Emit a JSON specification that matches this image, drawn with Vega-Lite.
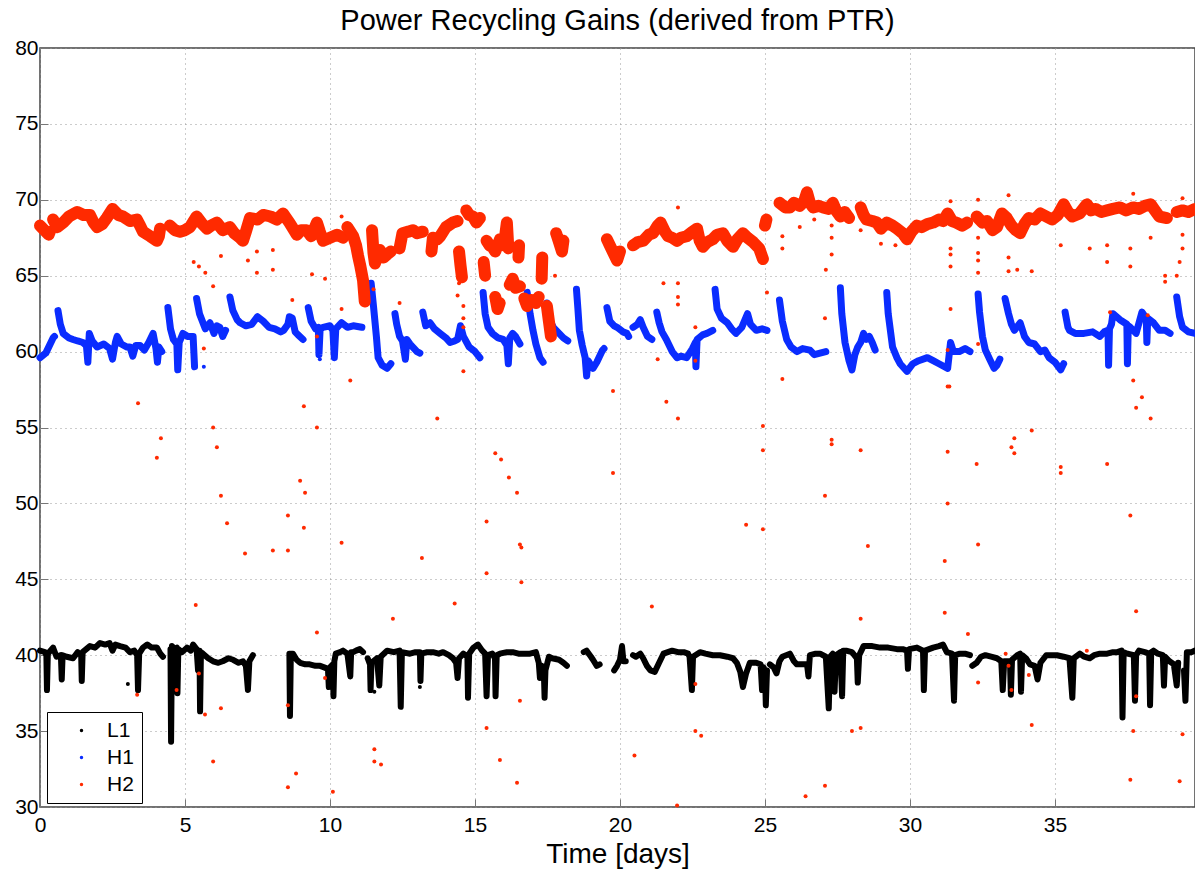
{
"$schema":"https://vega.github.io/schema/vega-lite/v6.json",
"width":1155,"height":759,
"autosize":{"type":"none"},
"padding":{"left":40,"top":48,"right":0,"bottom":62},
"title":{"text":"Power Recycling Gains (derived from PTR)","fontSize":29,"fontWeight":"normal","font":"Liberation Sans","color":"#000","anchor":"middle","baseline":"alphabetic","offset":16,"dy":38},
"config":{"font":"Liberation Sans","view":{"stroke":"#444","strokeWidth":1.5}},
"datasets":{
"L1":[
{"series":"L1","seg":"a","day":0,"gain":40.3},{"series":"L1","seg":"a","day":0.17,"gain":40.2},{"series":"L1","seg":"a","day":0.22,"gain":40.0},{"series":"L1","seg":"a","day":0.24,"gain":37.7},{"series":"L1","seg":"a","day":0.27,"gain":40.1},{"series":"L1","seg":"a","day":0.45,"gain":40.5},{"series":"L1","seg":"a","day":0.57,"gain":39.9},{"series":"L1","seg":"a","day":0.72,"gain":40.0},{"series":"L1","seg":"a","day":0.75,"gain":38.4},{"series":"L1","seg":"a","day":0.78,"gain":40.0},{"series":"L1","seg":"a","day":0.92,"gain":39.9},{"series":"L1","seg":"a","day":1.14,"gain":39.8},{"series":"L1","seg":"a","day":1.3,"gain":40.2},{"series":"L1","seg":"a","day":1.42,"gain":40.0},{"series":"L1","seg":"a","day":1.44,"gain":38.3},{"series":"L1","seg":"a","day":1.47,"gain":40.2},{"series":"L1","seg":"a","day":1.72,"gain":40.6},{"series":"L1","seg":"a","day":1.9,"gain":40.5},{"series":"L1","seg":"a","day":2.07,"gain":40.8},{"series":"L1","seg":"a","day":2.25,"gain":40.7},{"series":"L1","seg":"a","day":2.4,"gain":40.8},{"series":"L1","seg":"a","day":2.5,"gain":40.3},{"series":"L1","seg":"a","day":2.6,"gain":40.7},{"series":"L1","seg":"a","day":2.76,"gain":40.6},{"series":"L1","seg":"a","day":2.95,"gain":40.5},{"series":"L1","seg":"a","day":3.1,"gain":40.2},{"series":"L1","seg":"a","day":3.25,"gain":40.3},{"series":"L1","seg":"a","day":3.35,"gain":40.0},{"series":"L1","seg":"a","day":3.38,"gain":37.7},{"series":"L1","seg":"a","day":3.42,"gain":40.1},{"series":"L1","seg":"a","day":3.55,"gain":40.5},{"series":"L1","seg":"a","day":3.7,"gain":40.7},{"series":"L1","seg":"a","day":3.85,"gain":40.5},{"series":"L1","seg":"a","day":4.03,"gain":40.5},{"series":"L1","seg":"a","day":4.15,"gain":40.1},{"series":"L1","seg":"a","day":4.24,"gain":39.9},
{"series":"L1","seg":"b","day":4.5,"gain":40.4},{"series":"L1","seg":"b","day":4.52,"gain":34.3},{"series":"L1","seg":"b","day":4.55,"gain":40.6},{"series":"L1","seg":"b","day":4.65,"gain":40.4},{"series":"L1","seg":"b","day":4.72,"gain":40.5},{"series":"L1","seg":"b","day":4.74,"gain":37.5},{"series":"L1","seg":"b","day":4.77,"gain":40.4},{"series":"L1","seg":"b","day":4.9,"gain":40.2},{"series":"L1","seg":"b","day":5.07,"gain":40.5},{"series":"L1","seg":"b","day":5.2,"gain":40.3},{"series":"L1","seg":"b","day":5.28,"gain":40.7},{"series":"L1","seg":"b","day":5.4,"gain":40.4},{"series":"L1","seg":"b","day":5.45,"gain":39.0},{"series":"L1","seg":"b","day":5.5,"gain":40.3},{"series":"L1","seg":"b","day":5.52,"gain":36.3},{"series":"L1","seg":"b","day":5.55,"gain":40.2},{"series":"L1","seg":"b","day":5.62,"gain":40.1},{"series":"L1","seg":"b","day":5.8,"gain":39.8},{"series":"L1","seg":"b","day":5.97,"gain":39.6},{"series":"L1","seg":"b","day":6.15,"gain":39.5},{"series":"L1","seg":"b","day":6.3,"gain":39.6},{"series":"L1","seg":"b","day":6.5,"gain":39.8},{"series":"L1","seg":"b","day":6.66,"gain":39.7},{"series":"L1","seg":"b","day":6.85,"gain":39.5},{"series":"L1","seg":"b","day":7.0,"gain":39.6},{"series":"L1","seg":"b","day":7.1,"gain":39.3},{"series":"L1","seg":"b","day":7.17,"gain":37.7},{"series":"L1","seg":"b","day":7.22,"gain":39.6},{"series":"L1","seg":"b","day":7.34,"gain":40.0},
{"series":"L1","seg":"c","day":8.6,"gain":40.1},{"series":"L1","seg":"c","day":8.62,"gain":36.0},{"series":"L1","seg":"c","day":8.65,"gain":40.1},{"series":"L1","seg":"c","day":8.72,"gain":40.1},{"series":"L1","seg":"c","day":8.85,"gain":39.7},{"series":"L1","seg":"c","day":8.97,"gain":39.5},{"series":"L1","seg":"c","day":9.15,"gain":39.4},{"series":"L1","seg":"c","day":9.3,"gain":39.4},{"series":"L1","seg":"c","day":9.5,"gain":39.3},{"series":"L1","seg":"c","day":9.66,"gain":39.3},{"series":"L1","seg":"c","day":9.8,"gain":39.2},{"series":"L1","seg":"c","day":9.93,"gain":39.1},{"series":"L1","seg":"c","day":9.96,"gain":37.9},{"series":"L1","seg":"c","day":10.0,"gain":39.2},{"series":"L1","seg":"c","day":10.1,"gain":39.4},{"series":"L1","seg":"c","day":10.12,"gain":37.3},{"series":"L1","seg":"c","day":10.15,"gain":39.6},{"series":"L1","seg":"c","day":10.2,"gain":40.1},{"series":"L1","seg":"c","day":10.35,"gain":40.2},{"series":"L1","seg":"c","day":10.45,"gain":40.3},{"series":"L1","seg":"c","day":10.6,"gain":40.1},{"series":"L1","seg":"c","day":10.7,"gain":38.6},{"series":"L1","seg":"c","day":10.73,"gain":40.2},{"series":"L1","seg":"c","day":10.8,"gain":40.2},{"series":"L1","seg":"c","day":10.9,"gain":40.3},{"series":"L1","seg":"c","day":11.03,"gain":40.4},{"series":"L1","seg":"c","day":11.14,"gain":40.2},
{"series":"L1","seg":"d","day":11.3,"gain":39.8},{"series":"L1","seg":"d","day":11.38,"gain":39.4},{"series":"L1","seg":"d","day":11.4,"gain":37.7},{"series":"L1","seg":"d","day":11.43,"gain":39.5},{"series":"L1","seg":"d","day":11.62,"gain":39.8},{"series":"L1","seg":"d","day":11.7,"gain":38.0},{"series":"L1","seg":"d","day":11.75,"gain":39.9},{"series":"L1","seg":"d","day":11.97,"gain":40.3},{"series":"L1","seg":"d","day":12.2,"gain":40.2},{"series":"L1","seg":"d","day":12.4,"gain":40.3},{"series":"L1","seg":"d","day":12.44,"gain":36.6},{"series":"L1","seg":"d","day":12.48,"gain":40.2},{"series":"L1","seg":"d","day":12.76,"gain":40.1},{"series":"L1","seg":"d","day":12.95,"gain":40.2},{"series":"L1","seg":"d","day":13.1,"gain":40.2},{"series":"L1","seg":"d","day":13.12,"gain":38.3},{"series":"L1","seg":"d","day":13.15,"gain":40.1},{"series":"L1","seg":"d","day":13.35,"gain":40.2},{"series":"L1","seg":"d","day":13.55,"gain":40.2},{"series":"L1","seg":"d","day":13.75,"gain":40.1},{"series":"L1","seg":"d","day":13.9,"gain":40.2},{"series":"L1","seg":"d","day":14.1,"gain":40.0},{"series":"L1","seg":"d","day":14.24,"gain":39.8},{"series":"L1","seg":"d","day":14.35,"gain":39.5},{"series":"L1","seg":"d","day":14.4,"gain":38.5},{"series":"L1","seg":"d","day":14.45,"gain":39.8},{"series":"L1","seg":"d","day":14.6,"gain":40.1},{"series":"L1","seg":"d","day":14.74,"gain":39.9},{"series":"L1","seg":"d","day":14.76,"gain":37.2},{"series":"L1","seg":"d","day":14.8,"gain":40.1},{"series":"L1","seg":"d","day":14.95,"gain":40.5},{"series":"L1","seg":"d","day":15.1,"gain":40.7},{"series":"L1","seg":"d","day":15.25,"gain":40.3},{"series":"L1","seg":"d","day":15.35,"gain":40.1},{"series":"L1","seg":"d","day":15.4,"gain":37.3},{"series":"L1","seg":"d","day":15.45,"gain":40.0},{"series":"L1","seg":"d","day":15.6,"gain":40.1},{"series":"L1","seg":"d","day":15.69,"gain":39.8},{"series":"L1","seg":"d","day":15.71,"gain":37.3},{"series":"L1","seg":"d","day":15.75,"gain":40.0},{"series":"L1","seg":"d","day":15.86,"gain":40.1},{"series":"L1","seg":"d","day":16.1,"gain":40.2},{"series":"L1","seg":"d","day":16.3,"gain":40.2},{"series":"L1","seg":"d","day":16.5,"gain":40.1},{"series":"L1","seg":"d","day":16.66,"gain":40.1},{"series":"L1","seg":"d","day":16.9,"gain":40.1},{"series":"L1","seg":"d","day":17.1,"gain":40.2},{"series":"L1","seg":"d","day":17.2,"gain":39.5},{"series":"L1","seg":"d","day":17.24,"gain":38.5},{"series":"L1","seg":"d","day":17.3,"gain":39.3},{"series":"L1","seg":"d","day":17.38,"gain":38.6},{"series":"L1","seg":"d","day":17.4,"gain":37.2},{"series":"L1","seg":"d","day":17.43,"gain":39.0},{"series":"L1","seg":"d","day":17.55,"gain":39.9},{"series":"L1","seg":"d","day":17.66,"gain":39.8},{"series":"L1","seg":"d","day":17.9,"gain":39.7},{"series":"L1","seg":"d","day":18.05,"gain":39.5},{"series":"L1","seg":"d","day":18.17,"gain":39.3},
{"series":"L1","seg":"e","day":18.75,"gain":40.2},{"series":"L1","seg":"e","day":18.85,"gain":40.3},{"series":"L1","seg":"e","day":19.0,"gain":39.9},{"series":"L1","seg":"e","day":19.07,"gain":39.7},{"series":"L1","seg":"e","day":19.2,"gain":39.3},{"series":"L1","seg":"e","day":19.3,"gain":39.4},
{"series":"L1","seg":"f","day":19.8,"gain":39.0},{"series":"L1","seg":"f","day":19.9,"gain":39.3},{"series":"L1","seg":"f","day":20.0,"gain":39.7},{"series":"L1","seg":"f","day":20.07,"gain":40.6},{"series":"L1","seg":"f","day":20.12,"gain":39.6},{"series":"L1","seg":"f","day":20.2,"gain":39.6},
{"series":"L1","seg":"g","day":20.45,"gain":40.0},{"series":"L1","seg":"g","day":20.55,"gain":39.9},{"series":"L1","seg":"g","day":20.7,"gain":40.1},{"series":"L1","seg":"g","day":20.8,"gain":39.8},{"series":"L1","seg":"g","day":20.93,"gain":39.3},{"series":"L1","seg":"g","day":21.05,"gain":39.0},{"series":"L1","seg":"g","day":21.2,"gain":38.9},{"series":"L1","seg":"g","day":21.35,"gain":39.5},{"series":"L1","seg":"g","day":21.5,"gain":40.1},{"series":"L1","seg":"g","day":21.65,"gain":40.2},{"series":"L1","seg":"g","day":21.8,"gain":40.3},{"series":"L1","seg":"g","day":22.0,"gain":40.2},{"series":"L1","seg":"g","day":22.2,"gain":40.2},{"series":"L1","seg":"g","day":22.35,"gain":40.1},{"series":"L1","seg":"g","day":22.4,"gain":39.9},{"series":"L1","seg":"g","day":22.48,"gain":37.7},{"series":"L1","seg":"g","day":22.52,"gain":39.9},{"series":"L1","seg":"g","day":22.76,"gain":40.2},{"series":"L1","seg":"g","day":22.95,"gain":40.1},{"series":"L1","seg":"g","day":23.2,"gain":40.0},{"series":"L1","seg":"g","day":23.45,"gain":40.0},{"series":"L1","seg":"g","day":23.7,"gain":39.9},{"series":"L1","seg":"g","day":23.9,"gain":39.8},{"series":"L1","seg":"g","day":24.03,"gain":39.5},{"series":"L1","seg":"g","day":24.15,"gain":38.9},{"series":"L1","seg":"g","day":24.24,"gain":37.9},{"series":"L1","seg":"g","day":24.35,"gain":38.8},{"series":"L1","seg":"g","day":24.48,"gain":39.5},{"series":"L1","seg":"g","day":24.7,"gain":39.5},{"series":"L1","seg":"g","day":24.85,"gain":39.4},{"series":"L1","seg":"g","day":24.9,"gain":37.7},{"series":"L1","seg":"g","day":24.95,"gain":39.2},{"series":"L1","seg":"g","day":25.0,"gain":39.0},{"series":"L1","seg":"g","day":25.03,"gain":36.7},{"series":"L1","seg":"g","day":25.07,"gain":39.0},
{"series":"L1","seg":"h","day":25.17,"gain":39.4},{"series":"L1","seg":"h","day":25.3,"gain":39.2},{"series":"L1","seg":"h","day":25.4,"gain":38.8},{"series":"L1","seg":"h","day":25.5,"gain":39.6},{"series":"L1","seg":"h","day":25.6,"gain":39.9},{"series":"L1","seg":"h","day":25.86,"gain":40.1},{"series":"L1","seg":"h","day":26.0,"gain":39.6},{"series":"L1","seg":"h","day":26.1,"gain":39.4},{"series":"L1","seg":"h","day":26.3,"gain":39.4},{"series":"L1","seg":"h","day":26.45,"gain":39.4},{"series":"L1","seg":"h","day":26.5,"gain":38.6},{"series":"L1","seg":"h","day":26.55,"gain":40.0},{"series":"L1","seg":"h","day":26.75,"gain":40.1},{"series":"L1","seg":"h","day":26.9,"gain":40.1},{"series":"L1","seg":"h","day":27.1,"gain":39.9},{"series":"L1","seg":"h","day":27.2,"gain":36.5},{"series":"L1","seg":"h","day":27.25,"gain":39.9},{"series":"L1","seg":"h","day":27.34,"gain":40.1},{"series":"L1","seg":"h","day":27.4,"gain":37.6},{"series":"L1","seg":"h","day":27.45,"gain":40.0},{"series":"L1","seg":"h","day":27.6,"gain":40.2},{"series":"L1","seg":"h","day":27.66,"gain":37.3},{"series":"L1","seg":"h","day":27.7,"gain":40.3},{"series":"L1","seg":"h","day":27.8,"gain":40.3},{"series":"L1","seg":"h","day":28.0,"gain":40.2},{"series":"L1","seg":"h","day":28.17,"gain":39.8},{"series":"L1","seg":"h","day":28.2,"gain":38.2},{"series":"L1","seg":"h","day":28.25,"gain":40.0},{"series":"L1","seg":"h","day":28.4,"gain":40.6},{"series":"L1","seg":"h","day":28.7,"gain":40.6},{"series":"L1","seg":"h","day":28.97,"gain":40.5},{"series":"L1","seg":"h","day":29.25,"gain":40.5},{"series":"L1","seg":"h","day":29.55,"gain":40.4},{"series":"L1","seg":"h","day":29.75,"gain":40.4},{"series":"L1","seg":"h","day":29.9,"gain":40.3},{"series":"L1","seg":"h","day":29.93,"gain":39.1},{"series":"L1","seg":"h","day":29.97,"gain":40.4},{"series":"L1","seg":"h","day":30.24,"gain":40.5},{"series":"L1","seg":"h","day":30.45,"gain":40.3},{"series":"L1","seg":"h","day":30.48,"gain":37.7},{"series":"L1","seg":"h","day":30.52,"gain":40.3},{"series":"L1","seg":"h","day":30.8,"gain":40.5},{"series":"L1","seg":"h","day":31.0,"gain":40.6},{"series":"L1","seg":"h","day":31.14,"gain":40.7},{"series":"L1","seg":"h","day":31.27,"gain":40.2},{"series":"L1","seg":"h","day":31.45,"gain":40.1},{"series":"L1","seg":"h","day":31.52,"gain":37.0},{"series":"L1","seg":"h","day":31.56,"gain":40.0},{"series":"L1","seg":"h","day":31.72,"gain":40.1},{"series":"L1","seg":"h","day":31.9,"gain":40.1},{"series":"L1","seg":"h","day":32.07,"gain":40.0},
{"series":"L1","seg":"i","day":32.15,"gain":39.3},{"series":"L1","seg":"i","day":32.3,"gain":39.5},{"series":"L1","seg":"i","day":32.45,"gain":39.9},{"series":"L1","seg":"i","day":32.6,"gain":40.0},{"series":"L1","seg":"i","day":32.8,"gain":39.9},{"series":"L1","seg":"i","day":33.0,"gain":39.8},{"series":"L1","seg":"i","day":33.15,"gain":39.6},{"series":"L1","seg":"i","day":33.2,"gain":37.7},{"series":"L1","seg":"i","day":33.25,"gain":39.6},{"series":"L1","seg":"i","day":33.45,"gain":39.6},{"series":"L1","seg":"i","day":33.48,"gain":37.4},{"series":"L1","seg":"i","day":33.52,"gain":39.7},{"series":"L1","seg":"i","day":33.7,"gain":40.0},{"series":"L1","seg":"i","day":33.8,"gain":40.1},{"series":"L1","seg":"i","day":33.83,"gain":37.6},{"series":"L1","seg":"i","day":33.87,"gain":40.0},{"series":"L1","seg":"i","day":34.0,"gain":39.8},{"series":"L1","seg":"i","day":34.14,"gain":39.4},{"series":"L1","seg":"i","day":34.3,"gain":39.3},{"series":"L1","seg":"i","day":34.4,"gain":38.4},{"series":"L1","seg":"i","day":34.5,"gain":39.5},{"series":"L1","seg":"i","day":34.7,"gain":40.0},{"series":"L1","seg":"i","day":34.9,"gain":40.0},{"series":"L1","seg":"i","day":35.07,"gain":40.0},{"series":"L1","seg":"i","day":35.3,"gain":39.9},{"series":"L1","seg":"i","day":35.5,"gain":39.8},{"series":"L1","seg":"i","day":35.6,"gain":37.2},{"series":"L1","seg":"i","day":35.65,"gain":39.8},{"series":"L1","seg":"i","day":35.86,"gain":40.1},{"series":"L1","seg":"i","day":36.0,"gain":39.9},{"series":"L1","seg":"i","day":36.2,"gain":39.8},{"series":"L1","seg":"i","day":36.35,"gain":40.0},{"series":"L1","seg":"i","day":36.55,"gain":40.1},{"series":"L1","seg":"i","day":36.8,"gain":40.1},{"series":"L1","seg":"i","day":37.0,"gain":40.2},{"series":"L1","seg":"i","day":37.15,"gain":40.2},{"series":"L1","seg":"i","day":37.3,"gain":40.3},{"series":"L1","seg":"i","day":37.33,"gain":35.9},{"series":"L1","seg":"i","day":37.37,"gain":40.2},{"series":"L1","seg":"i","day":37.5,"gain":40.1},{"series":"L1","seg":"i","day":37.72,"gain":40.0},{"series":"L1","seg":"i","day":37.76,"gain":37.0},{"series":"L1","seg":"i","day":37.8,"gain":40.0},{"series":"L1","seg":"i","day":37.9,"gain":40.3},{"series":"L1","seg":"i","day":38.1,"gain":40.2},{"series":"L1","seg":"i","day":38.25,"gain":40.1},{"series":"L1","seg":"i","day":38.28,"gain":36.7},{"series":"L1","seg":"i","day":38.32,"gain":40.2},{"series":"L1","seg":"i","day":38.4,"gain":40.3},{"series":"L1","seg":"i","day":38.55,"gain":40.1},{"series":"L1","seg":"i","day":38.72,"gain":40.0},{"series":"L1","seg":"i","day":38.76,"gain":38.0},{"series":"L1","seg":"i","day":38.8,"gain":39.9},{"series":"L1","seg":"i","day":38.95,"gain":39.6},{"series":"L1","seg":"i","day":39.1,"gain":39.4},{"series":"L1","seg":"i","day":39.2,"gain":38.0},{"series":"L1","seg":"i","day":39.25,"gain":39.5},
{"series":"L1","seg":"j","day":39.45,"gain":39.0},{"series":"L1","seg":"j","day":39.5,"gain":37.0},{"series":"L1","seg":"j","day":39.55,"gain":40.2},{"series":"L1","seg":"j","day":39.7,"gain":40.2},{"series":"L1","seg":"j","day":39.83,"gain":40.3}
],
"H1":[
{"series":"H1","seg":"a","day":0,"gain":59.6},{"series":"H1","seg":"a","day":0.2,"gain":59.9},{"series":"H1","seg":"a","day":0.45,"gain":60.9},{"series":"H1","seg":"a","day":0.5,"gain":61.0},
{"series":"H1","seg":"b","day":0.62,"gain":62.7},{"series":"H1","seg":"b","day":0.7,"gain":61.8},{"series":"H1","seg":"b","day":0.8,"gain":61.2},{"series":"H1","seg":"b","day":1.0,"gain":60.9},{"series":"H1","seg":"b","day":1.14,"gain":60.8},{"series":"H1","seg":"b","day":1.3,"gain":60.7},{"series":"H1","seg":"b","day":1.48,"gain":60.6},{"series":"H1","seg":"b","day":1.6,"gain":60.4},{"series":"H1","seg":"b","day":1.65,"gain":59.3},{"series":"H1","seg":"b","day":1.7,"gain":61.2},{"series":"H1","seg":"b","day":1.8,"gain":60.7},{"series":"H1","seg":"b","day":1.97,"gain":60.3},{"series":"H1","seg":"b","day":2.2,"gain":60.5},{"series":"H1","seg":"b","day":2.4,"gain":60.2},{"series":"H1","seg":"b","day":2.5,"gain":59.5},{"series":"H1","seg":"b","day":2.6,"gain":60.6},{"series":"H1","seg":"b","day":2.66,"gain":61.0},{"series":"H1","seg":"b","day":2.8,"gain":60.5},{"series":"H1","seg":"b","day":3.0,"gain":60.3},{"series":"H1","seg":"b","day":3.1,"gain":60.3},{"series":"H1","seg":"b","day":3.2,"gain":59.7},{"series":"H1","seg":"b","day":3.3,"gain":60.4},{"series":"H1","seg":"b","day":3.45,"gain":60.4},{"series":"H1","seg":"b","day":3.6,"gain":60.1},{"series":"H1","seg":"b","day":3.75,"gain":60.6},{"series":"H1","seg":"b","day":3.9,"gain":61.2},{"series":"H1","seg":"b","day":4.0,"gain":60.2},{"series":"H1","seg":"b","day":4.05,"gain":59.3},{"series":"H1","seg":"b","day":4.1,"gain":60.3},{"series":"H1","seg":"b","day":4.2,"gain":60.0},
{"series":"H1","seg":"c","day":4.41,"gain":62.9},{"series":"H1","seg":"c","day":4.5,"gain":61.5},{"series":"H1","seg":"c","day":4.6,"gain":60.8},{"series":"H1","seg":"c","day":4.72,"gain":60.5},{"series":"H1","seg":"c","day":4.75,"gain":58.8},{"series":"H1","seg":"c","day":4.8,"gain":60.6},{"series":"H1","seg":"c","day":4.93,"gain":61.2},{"series":"H1","seg":"c","day":5.1,"gain":61.0},{"series":"H1","seg":"c","day":5.28,"gain":61.0},{"series":"H1","seg":"c","day":5.33,"gain":59.0},
{"series":"H1","seg":"d","day":5.4,"gain":63.5},{"series":"H1","seg":"d","day":5.5,"gain":62.5},{"series":"H1","seg":"d","day":5.6,"gain":62.0},{"series":"H1","seg":"d","day":5.7,"gain":61.5},{"series":"H1","seg":"d","day":5.86,"gain":61.9},{"series":"H1","seg":"d","day":6.0,"gain":61.2},{"series":"H1","seg":"d","day":6.1,"gain":61.7},{"series":"H1","seg":"d","day":6.2,"gain":61.6},{"series":"H1","seg":"d","day":6.3,"gain":61.0},{"series":"H1","seg":"d","day":6.4,"gain":61.4},
{"series":"H1","seg":"e","day":6.55,"gain":63.6},{"series":"H1","seg":"e","day":6.65,"gain":62.7},{"series":"H1","seg":"e","day":6.8,"gain":62.1},{"series":"H1","seg":"e","day":6.9,"gain":61.9},{"series":"H1","seg":"e","day":7.1,"gain":61.7},{"series":"H1","seg":"e","day":7.3,"gain":61.8},{"series":"H1","seg":"e","day":7.5,"gain":62.3},{"series":"H1","seg":"e","day":7.7,"gain":62.0},{"series":"H1","seg":"e","day":7.9,"gain":61.6},{"series":"H1","seg":"e","day":8.1,"gain":61.5},{"series":"H1","seg":"e","day":8.3,"gain":61.3},{"series":"H1","seg":"e","day":8.4,"gain":61.4},{"series":"H1","seg":"e","day":8.55,"gain":61.8},{"series":"H1","seg":"e","day":8.6,"gain":62.3},{"series":"H1","seg":"e","day":8.7,"gain":62.2},{"series":"H1","seg":"e","day":8.8,"gain":61.3},{"series":"H1","seg":"e","day":8.9,"gain":61.1},{"series":"H1","seg":"e","day":9.07,"gain":60.8},
{"series":"H1","seg":"f","day":9.25,"gain":62.9},{"series":"H1","seg":"f","day":9.35,"gain":62.0},{"series":"H1","seg":"f","day":9.5,"gain":61.5},{"series":"H1","seg":"f","day":9.6,"gain":61.6},{"series":"H1","seg":"f","day":9.62,"gain":59.8},{"series":"H1","seg":"f","day":9.66,"gain":61.5},{"series":"H1","seg":"f","day":9.76,"gain":61.6},{"series":"H1","seg":"f","day":10.0,"gain":61.7},{"series":"H1","seg":"f","day":10.1,"gain":61.4},{"series":"H1","seg":"f","day":10.15,"gain":59.6},{"series":"H1","seg":"f","day":10.2,"gain":61.5},{"series":"H1","seg":"f","day":10.4,"gain":61.9},{"series":"H1","seg":"f","day":10.6,"gain":61.6},{"series":"H1","seg":"f","day":10.8,"gain":61.7},{"series":"H1","seg":"f","day":11.1,"gain":61.6},
{"series":"H1","seg":"g","day":11.42,"gain":64.5},{"series":"H1","seg":"g","day":11.5,"gain":63.0},{"series":"H1","seg":"g","day":11.6,"gain":61.0},{"series":"H1","seg":"g","day":11.66,"gain":59.6},{"series":"H1","seg":"g","day":11.8,"gain":59.1},{"series":"H1","seg":"g","day":11.97,"gain":58.9},{"series":"H1","seg":"g","day":12.1,"gain":59.2},
{"series":"H1","seg":"h","day":12.24,"gain":62.5},{"series":"H1","seg":"h","day":12.3,"gain":61.8},{"series":"H1","seg":"h","day":12.4,"gain":61.0},{"series":"H1","seg":"h","day":12.5,"gain":60.7},{"series":"H1","seg":"h","day":12.6,"gain":59.5},{"series":"H1","seg":"h","day":12.65,"gain":60.8},{"series":"H1","seg":"h","day":12.76,"gain":60.5},{"series":"H1","seg":"h","day":13.0,"gain":60.0},{"series":"H1","seg":"h","day":13.1,"gain":59.9},
{"series":"H1","seg":"i","day":13.2,"gain":62.6},{"series":"H1","seg":"i","day":13.3,"gain":61.7},{"series":"H1","seg":"i","day":13.45,"gain":61.9},{"series":"H1","seg":"i","day":13.6,"gain":61.5},{"series":"H1","seg":"i","day":13.8,"gain":61.2},{"series":"H1","seg":"i","day":14.0,"gain":60.9},{"series":"H1","seg":"i","day":14.14,"gain":60.6},{"series":"H1","seg":"i","day":14.3,"gain":60.7},{"series":"H1","seg":"i","day":14.4,"gain":60.8},{"series":"H1","seg":"i","day":14.5,"gain":61.7},{"series":"H1","seg":"i","day":14.6,"gain":61.0},{"series":"H1","seg":"i","day":14.8,"gain":60.3},{"series":"H1","seg":"i","day":15.0,"gain":60.0},{"series":"H1","seg":"i","day":15.17,"gain":59.6},
{"series":"H1","seg":"j","day":15.28,"gain":63.9},{"series":"H1","seg":"j","day":15.35,"gain":62.5},{"series":"H1","seg":"j","day":15.45,"gain":61.6},{"series":"H1","seg":"j","day":15.6,"gain":61.2},{"series":"H1","seg":"j","day":15.8,"gain":60.9},{"series":"H1","seg":"j","day":15.97,"gain":60.8},{"series":"H1","seg":"j","day":16.1,"gain":60.4},{"series":"H1","seg":"j","day":16.15,"gain":59.2},{"series":"H1","seg":"j","day":16.2,"gain":60.9},{"series":"H1","seg":"j","day":16.3,"gain":61.2},{"series":"H1","seg":"j","day":16.4,"gain":61.0},{"series":"H1","seg":"j","day":16.55,"gain":60.5},
{"series":"H1","seg":"k","day":16.8,"gain":63.9},{"series":"H1","seg":"k","day":16.9,"gain":62.5},{"series":"H1","seg":"k","day":17.0,"gain":61.4},{"series":"H1","seg":"k","day":17.1,"gain":60.5},{"series":"H1","seg":"k","day":17.24,"gain":59.6},{"series":"H1","seg":"k","day":17.35,"gain":59.3},
{"series":"H1","seg":"l","day":17.48,"gain":63.2},{"series":"H1","seg":"l","day":17.6,"gain":62.0},{"series":"H1","seg":"l","day":17.7,"gain":61.6},{"series":"H1","seg":"l","day":17.9,"gain":61.2},{"series":"H1","seg":"l","day":18.05,"gain":60.9},{"series":"H1","seg":"l","day":18.2,"gain":60.7},
{"series":"H1","seg":"m","day":18.5,"gain":64.1},{"series":"H1","seg":"m","day":18.55,"gain":62.8},{"series":"H1","seg":"m","day":18.6,"gain":61.4},{"series":"H1","seg":"m","day":18.7,"gain":60.4},{"series":"H1","seg":"m","day":18.8,"gain":59.6},{"series":"H1","seg":"m","day":18.85,"gain":58.4},{"series":"H1","seg":"m","day":18.9,"gain":59.4},{"series":"H1","seg":"m","day":19.07,"gain":58.9},{"series":"H1","seg":"m","day":19.2,"gain":59.3},{"series":"H1","seg":"m","day":19.4,"gain":60.1},{"series":"H1","seg":"m","day":19.45,"gain":60.2},
{"series":"H1","seg":"n","day":19.55,"gain":62.9},{"series":"H1","seg":"n","day":19.65,"gain":62.0},{"series":"H1","seg":"n","day":19.8,"gain":61.7},{"series":"H1","seg":"n","day":19.9,"gain":61.6},{"series":"H1","seg":"n","day":20.1,"gain":61.3},{"series":"H1","seg":"n","day":20.24,"gain":61.2},{"series":"H1","seg":"n","day":20.3,"gain":61.0},
{"series":"H1","seg":"o","day":20.45,"gain":61.6},{"series":"H1","seg":"o","day":20.6,"gain":61.8},{"series":"H1","seg":"o","day":20.7,"gain":62.1},{"series":"H1","seg":"o","day":20.8,"gain":61.6},{"series":"H1","seg":"o","day":20.95,"gain":61.0},{"series":"H1","seg":"o","day":21.1,"gain":60.8},
{"series":"H1","seg":"p","day":21.27,"gain":62.6},{"series":"H1","seg":"p","day":21.35,"gain":61.9},{"series":"H1","seg":"p","day":21.45,"gain":61.3},{"series":"H1","seg":"p","day":21.6,"gain":60.8},{"series":"H1","seg":"p","day":21.8,"gain":60.0},{"series":"H1","seg":"p","day":21.97,"gain":59.6},{"series":"H1","seg":"p","day":22.1,"gain":59.7},{"series":"H1","seg":"p","day":22.3,"gain":59.6},{"series":"H1","seg":"p","day":22.5,"gain":60.2},{"series":"H1","seg":"p","day":22.6,"gain":60.6},{"series":"H1","seg":"p","day":22.62,"gain":59.0},{"series":"H1","seg":"p","day":22.66,"gain":60.8},{"series":"H1","seg":"p","day":22.85,"gain":61.1},{"series":"H1","seg":"p","day":23.0,"gain":61.2},{"series":"H1","seg":"p","day":23.2,"gain":61.4},
{"series":"H1","seg":"q","day":23.28,"gain":64.1},{"series":"H1","seg":"q","day":23.35,"gain":62.8},{"series":"H1","seg":"q","day":23.5,"gain":62.2},{"series":"H1","seg":"q","day":23.7,"gain":61.9},{"series":"H1","seg":"q","day":23.85,"gain":61.5},{"series":"H1","seg":"q","day":24.0,"gain":61.2},{"series":"H1","seg":"q","day":24.2,"gain":61.6},{"series":"H1","seg":"q","day":24.4,"gain":62.5},{"series":"H1","seg":"q","day":24.5,"gain":61.8},{"series":"H1","seg":"q","day":24.7,"gain":61.4},{"series":"H1","seg":"q","day":24.9,"gain":61.5},{"series":"H1","seg":"q","day":25.07,"gain":61.4},
{"series":"H1","seg":"r","day":25.5,"gain":63.4},{"series":"H1","seg":"r","day":25.6,"gain":62.0},{"series":"H1","seg":"r","day":25.75,"gain":60.8},{"series":"H1","seg":"r","day":25.9,"gain":60.3},{"series":"H1","seg":"r","day":26.1,"gain":60.0},{"series":"H1","seg":"r","day":26.3,"gain":60.2},{"series":"H1","seg":"r","day":26.55,"gain":60.1},{"series":"H1","seg":"r","day":26.7,"gain":59.8},{"series":"H1","seg":"r","day":26.9,"gain":59.9},{"series":"H1","seg":"r","day":27.1,"gain":60.0},
{"series":"H1","seg":"s","day":27.6,"gain":64.2},{"series":"H1","seg":"s","day":27.65,"gain":62.5},{"series":"H1","seg":"s","day":27.76,"gain":60.6},{"series":"H1","seg":"s","day":27.9,"gain":59.4},{"series":"H1","seg":"s","day":28.0,"gain":58.8},{"series":"H1","seg":"s","day":28.1,"gain":59.8},{"series":"H1","seg":"s","day":28.2,"gain":60.3},{"series":"H1","seg":"s","day":28.3,"gain":60.6},{"series":"H1","seg":"s","day":28.4,"gain":61.2},{"series":"H1","seg":"s","day":28.5,"gain":60.8},{"series":"H1","seg":"s","day":28.6,"gain":61.0},{"series":"H1","seg":"s","day":28.7,"gain":60.6},{"series":"H1","seg":"s","day":28.8,"gain":60.1},
{"series":"H1","seg":"t","day":29.2,"gain":63.9},{"series":"H1","seg":"t","day":29.25,"gain":62.5},{"series":"H1","seg":"t","day":29.4,"gain":60.3},{"series":"H1","seg":"t","day":29.55,"gain":59.6},{"series":"H1","seg":"t","day":29.66,"gain":59.2},{"series":"H1","seg":"t","day":29.9,"gain":58.7},{"series":"H1","seg":"t","day":30.1,"gain":59.2},{"series":"H1","seg":"t","day":30.3,"gain":59.4},{"series":"H1","seg":"t","day":30.6,"gain":59.6},{"series":"H1","seg":"t","day":30.8,"gain":59.4},{"series":"H1","seg":"t","day":31.0,"gain":59.2},{"series":"H1","seg":"t","day":31.3,"gain":58.9},{"series":"H1","seg":"t","day":31.4,"gain":60.6},{"series":"H1","seg":"t","day":31.5,"gain":60.0},{"series":"H1","seg":"t","day":31.7,"gain":60.0},{"series":"H1","seg":"t","day":31.9,"gain":60.2},{"series":"H1","seg":"t","day":32.07,"gain":60.0},
{"series":"H1","seg":"u","day":32.35,"gain":63.8},{"series":"H1","seg":"u","day":32.4,"gain":62.6},{"series":"H1","seg":"u","day":32.5,"gain":61.0},{"series":"H1","seg":"u","day":32.6,"gain":60.1},{"series":"H1","seg":"u","day":32.75,"gain":59.5},{"series":"H1","seg":"u","day":32.9,"gain":58.9},{"series":"H1","seg":"u","day":33.0,"gain":59.1},{"series":"H1","seg":"u","day":33.1,"gain":59.5},
{"series":"H1","seg":"v","day":33.28,"gain":63.5},{"series":"H1","seg":"v","day":33.4,"gain":62.5},{"series":"H1","seg":"v","day":33.5,"gain":61.8},{"series":"H1","seg":"v","day":33.6,"gain":61.4},{"series":"H1","seg":"v","day":33.8,"gain":61.9},{"series":"H1","seg":"v","day":33.95,"gain":61.0},{"series":"H1","seg":"v","day":34.1,"gain":60.6},{"series":"H1","seg":"v","day":34.3,"gain":60.5},{"series":"H1","seg":"v","day":34.5,"gain":60.0},{"series":"H1","seg":"v","day":34.65,"gain":60.1},{"series":"H1","seg":"v","day":34.8,"gain":59.6},{"series":"H1","seg":"v","day":35.0,"gain":59.3},{"series":"H1","seg":"v","day":35.2,"gain":58.8},{"series":"H1","seg":"v","day":35.3,"gain":59.2},
{"series":"H1","seg":"w","day":35.35,"gain":62.6},{"series":"H1","seg":"w","day":35.45,"gain":61.6},{"series":"H1","seg":"w","day":35.5,"gain":61.4},{"series":"H1","seg":"w","day":35.7,"gain":61.2},{"series":"H1","seg":"w","day":36.0,"gain":61.2},{"series":"H1","seg":"w","day":36.3,"gain":61.3},{"series":"H1","seg":"w","day":36.55,"gain":61.0},{"series":"H1","seg":"w","day":36.7,"gain":61.3},{"series":"H1","seg":"w","day":36.83,"gain":61.4},{"series":"H1","seg":"w","day":36.85,"gain":59.1},{"series":"H1","seg":"w","day":36.88,"gain":61.5},{"series":"H1","seg":"w","day":36.95,"gain":61.8},{"series":"H1","seg":"w","day":37.0,"gain":62.5},{"series":"H1","seg":"w","day":37.24,"gain":62.1},{"series":"H1","seg":"w","day":37.4,"gain":61.9},{"series":"H1","seg":"w","day":37.48,"gain":61.8},{"series":"H1","seg":"w","day":37.5,"gain":59.2},{"series":"H1","seg":"w","day":37.53,"gain":61.7},{"series":"H1","seg":"w","day":37.6,"gain":61.6},{"series":"H1","seg":"w","day":37.8,"gain":61.2},{"series":"H1","seg":"w","day":38.0,"gain":62.6},{"series":"H1","seg":"w","day":38.15,"gain":62.2},{"series":"H1","seg":"w","day":38.17,"gain":60.6},{"series":"H1","seg":"w","day":38.2,"gain":62.2},{"series":"H1","seg":"w","day":38.4,"gain":61.9},{"series":"H1","seg":"w","day":38.6,"gain":61.4},{"series":"H1","seg":"w","day":38.8,"gain":61.4},{"series":"H1","seg":"w","day":38.97,"gain":61.2},
{"series":"H1","seg":"x","day":39.2,"gain":63.6},{"series":"H1","seg":"x","day":39.3,"gain":62.3},{"series":"H1","seg":"x","day":39.4,"gain":61.6},{"series":"H1","seg":"x","day":39.6,"gain":61.3},{"series":"H1","seg":"x","day":39.83,"gain":61.2}
],
"H2":[
{"series":"H2","seg":"A","day":0,"gain":68.3},{"series":"H2","seg":"A","day":0.15,"gain":68.0},{"series":"H2","seg":"A","day":0.3,"gain":67.7},{"series":"H2","seg":"A","day":0.34,"gain":67.9},
{"series":"H2","seg":"B","day":0.45,"gain":68.7},{"series":"H2","seg":"B","day":0.6,"gain":68.2},{"series":"H2","seg":"B","day":0.8,"gain":68.5},{"series":"H2","seg":"B","day":1.0,"gain":68.9},{"series":"H2","seg":"B","day":1.28,"gain":69.2},{"series":"H2","seg":"B","day":1.5,"gain":69.0},{"series":"H2","seg":"B","day":1.72,"gain":69.0},{"series":"H2","seg":"B","day":1.85,"gain":68.5},{"series":"H2","seg":"B","day":1.97,"gain":68.2},{"series":"H2","seg":"B","day":2.15,"gain":68.4},{"series":"H2","seg":"B","day":2.3,"gain":68.8},{"series":"H2","seg":"B","day":2.5,"gain":69.4},{"series":"H2","seg":"B","day":2.7,"gain":69.0},{"series":"H2","seg":"B","day":2.86,"gain":68.9},{"series":"H2","seg":"B","day":3.1,"gain":68.6},{"series":"H2","seg":"B","day":3.34,"gain":68.7},{"series":"H2","seg":"B","day":3.45,"gain":68.3},{"series":"H2","seg":"B","day":3.55,"gain":67.9},{"series":"H2","seg":"B","day":3.8,"gain":67.6},{"series":"H2","seg":"B","day":4.03,"gain":67.3},{"series":"H2","seg":"B","day":4.1,"gain":67.6},{"series":"H2","seg":"B","day":4.14,"gain":68.1},
{"series":"H2","seg":"C","day":4.48,"gain":68.3},{"series":"H2","seg":"C","day":4.65,"gain":68.0},{"series":"H2","seg":"C","day":4.83,"gain":67.9},{"series":"H2","seg":"C","day":5.0,"gain":68.0},{"series":"H2","seg":"C","day":5.17,"gain":68.2},{"series":"H2","seg":"C","day":5.4,"gain":68.9},{"series":"H2","seg":"C","day":5.6,"gain":68.4},{"series":"H2","seg":"C","day":5.76,"gain":68.1},{"series":"H2","seg":"C","day":5.9,"gain":68.3},{"series":"H2","seg":"C","day":6.1,"gain":68.5},{"series":"H2","seg":"C","day":6.3,"gain":68.0},{"series":"H2","seg":"C","day":6.55,"gain":68.2},{"series":"H2","seg":"C","day":6.7,"gain":67.8},{"series":"H2","seg":"C","day":6.9,"gain":67.5},{"series":"H2","seg":"C","day":7.0,"gain":67.3},{"series":"H2","seg":"C","day":7.1,"gain":67.9},{"series":"H2","seg":"C","day":7.24,"gain":68.8},{"series":"H2","seg":"C","day":7.5,"gain":68.7},{"series":"H2","seg":"C","day":7.7,"gain":69.0},{"series":"H2","seg":"C","day":7.95,"gain":68.9},{"series":"H2","seg":"C","day":8.17,"gain":68.7},{"series":"H2","seg":"C","day":8.38,"gain":69.1},{"series":"H2","seg":"C","day":8.6,"gain":68.5},{"series":"H2","seg":"C","day":8.86,"gain":67.7},{"series":"H2","seg":"C","day":9.0,"gain":68.0},{"series":"H2","seg":"C","day":9.2,"gain":68.0},{"series":"H2","seg":"C","day":9.35,"gain":67.6},{"series":"H2","seg":"C","day":9.55,"gain":68.5},{"series":"H2","seg":"C","day":9.65,"gain":67.9},{"series":"H2","seg":"C","day":9.76,"gain":67.3},{"series":"H2","seg":"C","day":10.0,"gain":67.5},{"series":"H2","seg":"C","day":10.24,"gain":67.7},{"series":"H2","seg":"C","day":10.45,"gain":67.5},
{"series":"H2","seg":"D","day":10.6,"gain":68.2},{"series":"H2","seg":"D","day":10.8,"gain":67.6},{"series":"H2","seg":"D","day":10.9,"gain":67.0},{"series":"H2","seg":"D","day":10.97,"gain":66.3},{"series":"H2","seg":"D","day":11.05,"gain":65.6},{"series":"H2","seg":"D","day":11.14,"gain":64.7},{"series":"H2","seg":"D","day":11.2,"gain":63.3},
{"series":"H2","seg":"E","day":11.45,"gain":68.0},{"series":"H2","seg":"E","day":11.5,"gain":66.5},{"series":"H2","seg":"E","day":11.55,"gain":65.8},{"series":"H2","seg":"E","day":11.72,"gain":66.7},{"series":"H2","seg":"E","day":11.85,"gain":66.2},{"series":"H2","seg":"E","day":11.97,"gain":66.4},{"series":"H2","seg":"E","day":12.1,"gain":66.6},
{"series":"H2","seg":"F","day":12.4,"gain":66.8},{"series":"H2","seg":"F","day":12.5,"gain":67.8},{"series":"H2","seg":"F","day":12.7,"gain":67.9},{"series":"H2","seg":"F","day":12.86,"gain":68.0},{"series":"H2","seg":"F","day":13.0,"gain":67.8},{"series":"H2","seg":"F","day":13.2,"gain":67.9},
{"series":"H2","seg":"G","day":13.5,"gain":66.6},{"series":"H2","seg":"G","day":13.55,"gain":67.5},{"series":"H2","seg":"G","day":13.7,"gain":67.4},{"series":"H2","seg":"G","day":13.8,"gain":67.6},{"series":"H2","seg":"G","day":14.0,"gain":68.2},{"series":"H2","seg":"G","day":14.24,"gain":68.5},{"series":"H2","seg":"G","day":14.4,"gain":68.6},
{"series":"H2","seg":"H","day":14.45,"gain":66.6},{"series":"H2","seg":"H","day":14.5,"gain":65.7},{"series":"H2","seg":"H","day":14.55,"gain":64.9},
{"series":"H2","seg":"I","day":14.7,"gain":69.3},{"series":"H2","seg":"I","day":14.8,"gain":69.0},{"series":"H2","seg":"I","day":14.93,"gain":68.9},{"series":"H2","seg":"I","day":15.05,"gain":68.5},{"series":"H2","seg":"I","day":15.17,"gain":68.8},
{"series":"H2","seg":"J","day":15.3,"gain":65.9},{"series":"H2","seg":"J","day":15.35,"gain":65.0},
{"series":"H2","seg":"K","day":15.4,"gain":67.3},{"series":"H2","seg":"K","day":15.5,"gain":67.0},{"series":"H2","seg":"K","day":15.6,"gain":66.9},{"series":"H2","seg":"K","day":15.7,"gain":66.6},{"series":"H2","seg":"K","day":15.86,"gain":67.4},{"series":"H2","seg":"K","day":16.0,"gain":67.0},{"series":"H2","seg":"K","day":16.1,"gain":68.5},{"series":"H2","seg":"K","day":16.15,"gain":66.8},
{"series":"H2","seg":"L","day":15.7,"gain":63.6},{"series":"H2","seg":"L","day":15.78,"gain":62.8},{"series":"H2","seg":"L","day":15.85,"gain":63.2},
{"series":"H2","seg":"M","day":16.2,"gain":64.4},{"series":"H2","seg":"M","day":16.3,"gain":64.8},{"series":"H2","seg":"M","day":16.4,"gain":64.2},{"series":"H2","seg":"M","day":16.55,"gain":64.3},
{"series":"H2","seg":"N","day":16.5,"gain":66.2},{"series":"H2","seg":"N","day":16.52,"gain":67.0},
{"series":"H2","seg":"O","day":16.7,"gain":63.5},{"series":"H2","seg":"O","day":16.8,"gain":63.0},{"series":"H2","seg":"O","day":16.95,"gain":63.4},{"series":"H2","seg":"O","day":17.1,"gain":63.2},{"series":"H2","seg":"O","day":17.2,"gain":63.6},
{"series":"H2","seg":"P","day":17.3,"gain":64.8},{"series":"H2","seg":"P","day":17.32,"gain":66.2},
{"series":"H2","seg":"Q","day":17.48,"gain":63.0},{"series":"H2","seg":"Q","day":17.55,"gain":62.0},{"series":"H2","seg":"Q","day":17.62,"gain":61.0},
{"series":"H2","seg":"R","day":17.8,"gain":67.8},{"series":"H2","seg":"R","day":17.9,"gain":67.2},{"series":"H2","seg":"R","day":18.0,"gain":66.6},{"series":"H2","seg":"R","day":18.05,"gain":67.3},
{"series":"H2","seg":"S","day":19.55,"gain":67.4},{"series":"H2","seg":"S","day":19.65,"gain":67.0},{"series":"H2","seg":"S","day":19.8,"gain":66.4},{"series":"H2","seg":"S","day":19.9,"gain":66.0},{"series":"H2","seg":"S","day":20.0,"gain":66.6},
{"series":"H2","seg":"T","day":20.45,"gain":67.0},{"series":"H2","seg":"T","day":20.6,"gain":67.2},{"series":"H2","seg":"T","day":20.8,"gain":67.3},{"series":"H2","seg":"T","day":21.0,"gain":67.7},{"series":"H2","seg":"T","day":21.14,"gain":67.8},{"series":"H2","seg":"T","day":21.3,"gain":68.3},{"series":"H2","seg":"T","day":21.4,"gain":68.5},{"series":"H2","seg":"T","day":21.55,"gain":67.9},{"series":"H2","seg":"T","day":21.66,"gain":67.6},{"series":"H2","seg":"T","day":21.8,"gain":67.5},{"series":"H2","seg":"T","day":21.97,"gain":67.3},{"series":"H2","seg":"T","day":22.1,"gain":67.5},{"series":"H2","seg":"T","day":22.3,"gain":67.6},{"series":"H2","seg":"T","day":22.5,"gain":67.9},{"series":"H2","seg":"T","day":22.66,"gain":68.1},{"series":"H2","seg":"T","day":22.75,"gain":67.3},{"series":"H2","seg":"T","day":22.86,"gain":66.9},{"series":"H2","seg":"T","day":23.0,"gain":67.2},{"series":"H2","seg":"T","day":23.2,"gain":67.4},{"series":"H2","seg":"T","day":23.35,"gain":67.7},{"series":"H2","seg":"T","day":23.55,"gain":67.8},{"series":"H2","seg":"T","day":23.7,"gain":67.3},{"series":"H2","seg":"T","day":23.9,"gain":66.9},{"series":"H2","seg":"T","day":24.05,"gain":67.4},{"series":"H2","seg":"T","day":24.24,"gain":67.8},{"series":"H2","seg":"T","day":24.4,"gain":67.5},{"series":"H2","seg":"T","day":24.6,"gain":67.2},{"series":"H2","seg":"T","day":24.8,"gain":66.8},{"series":"H2","seg":"T","day":24.93,"gain":66.1},
{"series":"H2","seg":"U","day":25.0,"gain":68.3},{"series":"H2","seg":"U","day":25.05,"gain":68.7},
{"series":"H2","seg":"V","day":25.5,"gain":69.8},{"series":"H2","seg":"V","day":25.7,"gain":69.5},{"series":"H2","seg":"V","day":25.86,"gain":69.5},{"series":"H2","seg":"V","day":26.0,"gain":69.8},{"series":"H2","seg":"V","day":26.2,"gain":69.6},{"series":"H2","seg":"V","day":26.35,"gain":69.9},{"series":"H2","seg":"V","day":26.45,"gain":70.5},{"series":"H2","seg":"V","day":26.55,"gain":69.8},{"series":"H2","seg":"V","day":26.66,"gain":69.5},{"series":"H2","seg":"V","day":26.85,"gain":69.6},{"series":"H2","seg":"V","day":27.0,"gain":69.5},{"series":"H2","seg":"V","day":27.2,"gain":69.4},{"series":"H2","seg":"V","day":27.34,"gain":69.8},{"series":"H2","seg":"V","day":27.45,"gain":69.3},{"series":"H2","seg":"V","day":27.6,"gain":68.9},{"series":"H2","seg":"V","day":27.75,"gain":69.2},{"series":"H2","seg":"V","day":27.9,"gain":68.8},
{"series":"H2","seg":"W","day":28.3,"gain":69.5},{"series":"H2","seg":"W","day":28.4,"gain":69.0},{"series":"H2","seg":"W","day":28.5,"gain":68.7},{"series":"H2","seg":"W","day":28.7,"gain":68.6},{"series":"H2","seg":"W","day":28.86,"gain":68.5},{"series":"H2","seg":"W","day":29.0,"gain":68.1},{"series":"H2","seg":"W","day":29.2,"gain":68.5},{"series":"H2","seg":"W","day":29.4,"gain":68.3},{"series":"H2","seg":"W","day":29.55,"gain":68.1},{"series":"H2","seg":"W","day":29.75,"gain":67.8},{"series":"H2","seg":"W","day":29.9,"gain":67.4},{"series":"H2","seg":"W","day":30.05,"gain":67.9},{"series":"H2","seg":"W","day":30.24,"gain":68.3},{"series":"H2","seg":"W","day":30.4,"gain":68.2},{"series":"H2","seg":"W","day":30.6,"gain":68.4},{"series":"H2","seg":"W","day":30.8,"gain":68.5},{"series":"H2","seg":"W","day":31.0,"gain":68.7},{"series":"H2","seg":"W","day":31.15,"gain":68.6},{"series":"H2","seg":"W","day":31.3,"gain":69.1},{"series":"H2","seg":"W","day":31.45,"gain":68.6},{"series":"H2","seg":"W","day":31.6,"gain":68.5},{"series":"H2","seg":"W","day":31.8,"gain":68.3},{"series":"H2","seg":"W","day":31.97,"gain":68.5},
{"series":"H2","seg":"X","day":32.3,"gain":68.9},{"series":"H2","seg":"X","day":32.5,"gain":68.5},{"series":"H2","seg":"X","day":32.66,"gain":68.6},{"series":"H2","seg":"X","day":32.85,"gain":68.0},{"series":"H2","seg":"X","day":33.0,"gain":68.2},{"series":"H2","seg":"X","day":33.17,"gain":69.1},{"series":"H2","seg":"X","day":33.34,"gain":68.8},{"series":"H2","seg":"X","day":33.5,"gain":68.3},{"series":"H2","seg":"X","day":33.65,"gain":68.0},{"series":"H2","seg":"X","day":33.8,"gain":67.8},{"series":"H2","seg":"X","day":33.95,"gain":68.4},{"series":"H2","seg":"X","day":34.1,"gain":68.8},{"series":"H2","seg":"X","day":34.3,"gain":68.7},{"series":"H2","seg":"X","day":34.5,"gain":69.1},{"series":"H2","seg":"X","day":34.7,"gain":68.9},{"series":"H2","seg":"X","day":34.9,"gain":68.7},{"series":"H2","seg":"X","day":35.1,"gain":69.0},{"series":"H2","seg":"X","day":35.3,"gain":69.7},{"series":"H2","seg":"X","day":35.45,"gain":69.2},{"series":"H2","seg":"X","day":35.6,"gain":68.9},{"series":"H2","seg":"X","day":35.85,"gain":69.1},{"series":"H2","seg":"X","day":36.1,"gain":69.7},{"series":"H2","seg":"X","day":36.25,"gain":69.3},{"series":"H2","seg":"X","day":36.4,"gain":69.4},{"series":"H2","seg":"X","day":36.6,"gain":69.2},{"series":"H2","seg":"X","day":36.8,"gain":69.3},{"series":"H2","seg":"X","day":37.0,"gain":69.4},{"series":"H2","seg":"X","day":37.24,"gain":69.5},{"series":"H2","seg":"X","day":37.45,"gain":69.3},{"series":"H2","seg":"X","day":37.7,"gain":69.5},{"series":"H2","seg":"X","day":37.9,"gain":69.4},{"series":"H2","seg":"X","day":38.1,"gain":69.6},{"series":"H2","seg":"X","day":38.3,"gain":69.7},{"series":"H2","seg":"X","day":38.45,"gain":69.3},{"series":"H2","seg":"X","day":38.6,"gain":68.9},{"series":"H2","seg":"X","day":38.86,"gain":68.8},
{"series":"H2","seg":"Y","day":39.2,"gain":69.2},{"series":"H2","seg":"Y","day":39.4,"gain":69.3},{"series":"H2","seg":"Y","day":39.6,"gain":69.2},{"series":"H2","seg":"Y","day":39.83,"gain":69.4}
],
"dots":[
{"series":"L1","day":3.03,"gain":38.1},{"series":"L1","day":13.1,"gain":37.9},{"series":"L1","day":11.53,"gain":37.6},
{"series":"H1","day":5.65,"gain":59.0},{"series":"H1","day":9.65,"gain":59.5},
{"series":"H2","day":3.38,"gain":56.6},{"series":"H2","day":4.17,"gain":54.3},{"series":"H2","day":4.03,"gain":53.0},{"series":"H2","day":5.97,"gain":55.0},{"series":"H2","day":6.1,"gain":53.7},{"series":"H2","day":6.24,"gain":50.5},{"series":"H2","day":6.45,"gain":48.7},{"series":"H2","day":7.07,"gain":46.7},{"series":"H2","day":8.03,"gain":46.9},{"series":"H2","day":8.55,"gain":46.9},{"series":"H2","day":8.55,"gain":49.2},{"series":"H2","day":8.97,"gain":51.5},{"series":"H2","day":9.14,"gain":50.7},{"series":"H2","day":9.1,"gain":48.4},{"series":"H2","day":9.1,"gain":56.4},{"series":"H2","day":9.55,"gain":55.0},{"series":"H2","day":10.4,"gain":47.4},{"series":"H2","day":10.7,"gain":58.1},{"series":"H2","day":5.37,"gain":43.3},{"series":"H2","day":5.65,"gain":60.2},{"series":"H2","day":9.55,"gain":61.0},{"series":"H2","day":12.17,"gain":42.4},{"series":"H2","day":10.4,"gain":62.8},{"series":"H2","day":10.4,"gain":68.9},{"series":"H2","day":5.3,"gain":65.9},{"series":"H2","day":5.48,"gain":65.6},{"series":"H2","day":5.7,"gain":65.2},{"series":"H2","day":5.97,"gain":64.3},{"series":"H2","day":6.24,"gain":66.3},{"series":"H2","day":7.17,"gain":66.0},{"series":"H2","day":7.48,"gain":65.2},{"series":"H2","day":7.48,"gain":66.6},{"series":"H2","day":8.03,"gain":65.4},{"series":"H2","day":8.03,"gain":66.7},{"series":"H2","day":8.7,"gain":63.4},{"series":"H2","day":9.38,"gain":65.1},{"series":"H2","day":9.83,"gain":64.8},{"series":"H2","day":12.4,"gain":63.2},{"series":"H2","day":11.5,"gain":64.1},
{"series":"H2","day":3.35,"gain":37.4},{"series":"H2","day":4.71,"gain":37.7},{"series":"H2","day":5.48,"gain":38.8},{"series":"H2","day":5.69,"gain":36.1},{"series":"H2","day":6.24,"gain":36.5},{"series":"H2","day":5.97,"gain":33.0},{"series":"H2","day":8.55,"gain":31.3},{"series":"H2","day":8.83,"gain":32.2},{"series":"H2","day":8.55,"gain":36.7},{"series":"H2","day":9.55,"gain":41.5},{"series":"H2","day":9.83,"gain":38.5},{"series":"H2","day":10.1,"gain":31.0},{"series":"H2","day":11.53,"gain":33.8},{"series":"H2","day":11.53,"gain":33.0},{"series":"H2","day":11.76,"gain":32.8},
{"series":"H2","day":14.3,"gain":43.4},{"series":"H2","day":21.1,"gain":43.2},{"series":"H2","day":16.55,"gain":37.0},{"series":"H2","day":15.4,"gain":35.2},{"series":"H2","day":15.86,"gain":33.1},{"series":"H2","day":16.45,"gain":31.6},{"series":"H2","day":20.5,"gain":33.4},{"series":"H2","day":22.6,"gain":38.1},{"series":"H2","day":22.6,"gain":35.0},{"series":"H2","day":22.8,"gain":34.7},{"series":"H2","day":21.97,"gain":30.1},{"series":"H2","day":26.4,"gain":30.7},
{"series":"H2","day":28.3,"gain":42.4},{"series":"H2","day":31.2,"gain":42.8},{"series":"H2","day":32.0,"gain":41.4},{"series":"H2","day":33.3,"gain":40.1},{"series":"H2","day":33.4,"gain":39.3},{"series":"H2","day":32.35,"gain":38.2},{"series":"H2","day":33.5,"gain":37.7},{"series":"H2","day":34.1,"gain":38.7},{"series":"H2","day":34.2,"gain":35.4},{"series":"H2","day":36.1,"gain":40.3},{"series":"H2","day":37.8,"gain":42.9},{"series":"H2","day":37.8,"gain":37.3},{"series":"H2","day":37.7,"gain":35.0},{"series":"H2","day":37.6,"gain":31.8},{"series":"H2","day":39.4,"gain":34.8},{"series":"H2","day":39.3,"gain":31.7},{"series":"H2","day":28.0,"gain":35.0},{"series":"H2","day":28.3,"gain":35.2},{"series":"H2","day":27.07,"gain":31.4},
{"series":"H2","day":13.7,"gain":55.6},{"series":"H2","day":14.6,"gain":58.7},{"series":"H2","day":14.6,"gain":62.2},{"series":"H2","day":14.6,"gain":63.0},{"series":"H2","day":15.7,"gain":53.3},{"series":"H2","day":15.9,"gain":52.9},{"series":"H2","day":16.17,"gain":51.7},{"series":"H2","day":16.45,"gain":50.7},{"series":"H2","day":15.4,"gain":48.8},{"series":"H2","day":16.55,"gain":47.3},{"series":"H2","day":16.6,"gain":47.1},{"series":"H2","day":15.4,"gain":45.4},{"series":"H2","day":16.6,"gain":44.8},{"series":"H2","day":13.17,"gain":46.4},{"series":"H2","day":19.76,"gain":57.4},{"series":"H2","day":19.76,"gain":52.0},{"series":"H2","day":21.6,"gain":56.7},{"series":"H2","day":22.0,"gain":55.6},{"series":"H2","day":24.93,"gain":55.1},{"series":"H2","day":24.93,"gain":53.5},{"series":"H2","day":24.35,"gain":48.6},{"series":"H2","day":24.93,"gain":48.3},{"series":"H2","day":25.6,"gain":58.2},{"series":"H2","day":21.3,"gain":59.5},{"series":"H2","day":22.6,"gain":59.4},{"series":"H2","day":22.6,"gain":61.6},{"series":"H2","day":22.0,"gain":63.1},
{"series":"H2","day":27.07,"gain":62.2},{"series":"H2","day":27.3,"gain":54.2},{"series":"H2","day":27.3,"gain":53.9},{"series":"H2","day":28.3,"gain":53.5},{"series":"H2","day":27.07,"gain":50.5},{"series":"H2","day":28.55,"gain":47.2},{"series":"H2","day":31.4,"gain":62.8},{"series":"H2","day":31.3,"gain":60.1},{"series":"H2","day":31.3,"gain":57.7},{"series":"H2","day":31.36,"gain":57.7},{"series":"H2","day":31.3,"gain":53.4},{"series":"H2","day":31.3,"gain":50.0},{"series":"H2","day":31.2,"gain":46.2},{"series":"H2","day":32.35,"gain":60.5},{"series":"H2","day":32.3,"gain":52.6},{"series":"H2","day":32.35,"gain":47.3},{"series":"H2","day":33.6,"gain":54.3},{"series":"H2","day":33.5,"gain":53.7},{"series":"H2","day":33.6,"gain":53.3},{"series":"H2","day":34.2,"gain":54.8},{"series":"H2","day":35.2,"gain":52.4},{"series":"H2","day":35.2,"gain":52.0},{"series":"H2","day":36.8,"gain":52.6},{"series":"H2","day":36.9,"gain":62.6},{"series":"H2","day":37.7,"gain":58.1},{"series":"H2","day":38.0,"gain":57.0},{"series":"H2","day":37.8,"gain":56.3},{"series":"H2","day":38.3,"gain":55.6},{"series":"H2","day":37.6,"gain":49.2},{"series":"H2","day":38.2,"gain":62.4},
{"series":"H2","day":14.4,"gain":63.7},{"series":"H2","day":14.45,"gain":64.5},{"series":"H2","day":14.6,"gain":61.6},{"series":"H2","day":16.1,"gain":68.5},{"series":"H2","day":17.76,"gain":65.0},{"series":"H2","day":21.5,"gain":64.5},{"series":"H2","day":22.0,"gain":64.5},{"series":"H2","day":22.0,"gain":63.6},{"series":"H2","day":22.0,"gain":69.5},{"series":"H2","day":25.07,"gain":63.9},{"series":"H2","day":25.6,"gain":66.8},{"series":"H2","day":25.6,"gain":67.6},{"series":"H2","day":26.2,"gain":68.2},{"series":"H2","day":26.7,"gain":68.7},{"series":"H2","day":27.3,"gain":68.3},{"series":"H2","day":27.3,"gain":67.5},{"series":"H2","day":27.3,"gain":66.4},{"series":"H2","day":27.1,"gain":65.4},{"series":"H2","day":28.3,"gain":68.0},{"series":"H2","day":29.0,"gain":67.1},{"series":"H2","day":29.5,"gain":67.0},{"series":"H2","day":31.4,"gain":69.9},{"series":"H2","day":31.4,"gain":66.8},{"series":"H2","day":31.4,"gain":66.4},{"series":"H2","day":31.4,"gain":65.6},{"series":"H2","day":32.35,"gain":70.0},{"series":"H2","day":32.35,"gain":67.5},{"series":"H2","day":32.35,"gain":66.5},{"series":"H2","day":32.35,"gain":66.0},{"series":"H2","day":32.35,"gain":65.2},{"series":"H2","day":33.4,"gain":70.3},{"series":"H2","day":33.4,"gain":66.2},{"series":"H2","day":33.4,"gain":65.3},{"series":"H2","day":33.7,"gain":65.4},{"series":"H2","day":34.2,"gain":65.3},{"series":"H2","day":35.2,"gain":67.0},{"series":"H2","day":36.2,"gain":66.8},{"series":"H2","day":36.8,"gain":67.0},{"series":"H2","day":36.8,"gain":65.9},{"series":"H2","day":37.7,"gain":70.4},{"series":"H2","day":37.6,"gain":66.8},{"series":"H2","day":37.6,"gain":65.6},{"series":"H2","day":38.3,"gain":67.5},{"series":"H2","day":38.8,"gain":65.0},{"series":"H2","day":38.8,"gain":64.6},{"series":"H2","day":39.2,"gain":65.0},{"series":"H2","day":39.4,"gain":66.8},{"series":"H2","day":39.4,"gain":67.7},{"series":"H2","day":39.4,"gain":70.1},{"series":"H2","day":39.3,"gain":65.9}
]
},
"encoding":{
"x":{"field":"day","type":"quantitative","scale":{"domain":[0,39.83],"nice":false,"zero":false},
 "axis":{"values":[0,5,10,15,20,25,30,35],"title":"Time [days]","titleFontSize":28,"titleFontWeight":"normal","titleColor":"#000","titleBaseline":"alphabetic","titleY":55,"labelFontSize":21,"labelColor":"#000","labelPadding":15,"labelFlush":false,"grid":true,"gridDash":[1,4],"gridColor":"#999","domain":false,"tickSize":-8,"tickColor":"#777"}},
"y":{"field":"gain","type":"quantitative","scale":{"domain":[30,80],"nice":false,"zero":false},
 "axis":{"values":[30,35,40,45,50,55,60,65,70,75,80],"title":null,"labelFontSize":21,"labelColor":"#000","labelPadding":10,"labelFlush":false,"grid":true,"gridDash":[1,4],"gridColor":"#999","domain":false,"tickSize":-8,"tickColor":"#777"}}
},
"layer":[
{"data":{"name":"L1"},"mark":{"type":"line","strokeWidth":6,"strokeJoin":"round","strokeCap":"round","color":"#000000"},"encoding":{"detail":{"field":"seg","type":"nominal"}}},
{"data":{"name":"H1"},"mark":{"type":"line","strokeWidth":7,"strokeJoin":"round","strokeCap":"round","color":"#0a2cff"},"encoding":{"detail":{"field":"seg","type":"nominal"}}},
{"data":{"name":"H2"},"mark":{"type":"line","strokeWidth":12,"strokeJoin":"round","strokeCap":"round","color":"#ff2a00"},"encoding":{"detail":{"field":"seg","type":"nominal"}}},
{"data":{"name":"dots"},"mark":{"type":"circle","size":16,"opacity":1},
 "encoding":{"color":{"field":"series","type":"nominal","scale":{"domain":["L1","H1","H2"],"range":["#000000","#0a2cff","#ff2a00"]},
  "legend":{"title":null,"orient":"none","legendX":7,"legendY":664,"padding":8,"fillColor":"#ffffff","strokeColor":"#000000","labelFontSize":21,"labelColor":"#000","symbolSize":12,"symbolType":"circle","rowPadding":5,"labelOffset":15,"symbolOffset":16,
   "encode":{"legend":{"update":{"strokeWidth":{"value":2}}}}}}}}
]
}
